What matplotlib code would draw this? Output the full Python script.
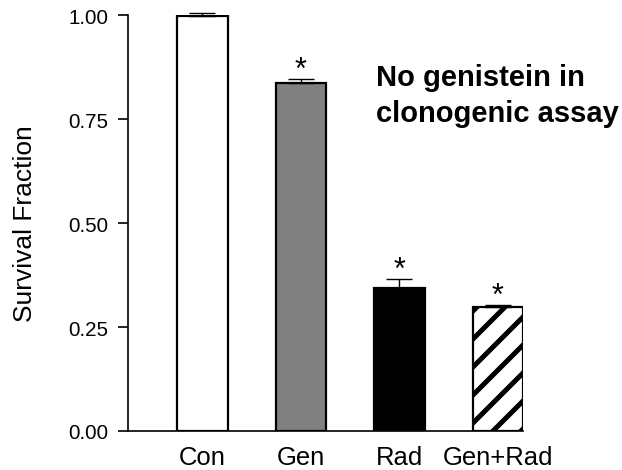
import numpy as np
import matplotlib
matplotlib.use("Agg")
import matplotlib.pyplot as plt

# ── Data ──────────────────────────────────────────────────────────────────────
groups = ["Con", "Gen", "Rad", "Gen+Rad"]
survival = [0.997, 0.837, 0.344, 0.298]
sem = [0.008, 0.009, 0.022, 0.004]
significant = [False, True, True, True]

FACE = ["white", "#808080", "black", "white"]
HATCH = [None, None, None, "/"]

# Render at dpi 84 so the hatch spacing (1 per 1/6 inch) matches the source;
# every size below is scaled so it looks as it would at dpi 100.
DPI = 84
F = 100 / DPI

plt.rcParams["font.family"] = ["Liberation Sans", "DejaVu Sans"]
plt.rcParams["hatch.linewidth"] = 3.6 * F
plt.rcParams["hatch.color"] = "black"

fig = plt.figure(figsize=(622 / DPI, 471 / DPI), dpi=DPI, facecolor="white")
ax = fig.add_axes([128 / 622, 1 - 432 / 471, (523 - 128) / 622, (432 - 16) / 471])

x = np.arange(len(groups))
bars = ax.bar(x, survival, width=0.51, color=FACE, edgecolor="black",
              linewidth=1.6 * F, zorder=2)
for b, h in zip(bars, HATCH):
    if h:
        b.set_hatch(h)

ax.errorbar(x, survival, yerr=[np.zeros(len(sem)), sem], fmt="none",
            ecolor="black", elinewidth=1.0 * F, capsize=9.5 * F,
            capthick=1.0 * F, zorder=3, clip_on=False)

for xi, v, e, s in zip(x, survival, sem, significant):
    if s:
        ax.text(xi, v + e + 0.022, "*", ha="center", va="center",
                fontsize=22 * F, color="black")

ax.set_xlim(-0.756, 3.254)
ax.set_ylim(0, 1.0)
ax.set_yticks([0, 0.25, 0.5, 0.75, 1.0])
ax.set_yticklabels(["0.00", "0.25", "0.50", "0.75", "1.00"])
ax.set_xticks(x)
ax.set_xticklabels(groups)
ax.tick_params(axis="x", length=0, pad=10 * F, labelsize=18.5 * F)
ax.tick_params(axis="y", length=7.2 * F, width=1.2 * F, pad=7 * F,
               labelsize=14.8 * F, direction="out")
ax.spines["top"].set_visible(False)
ax.spines["right"].set_visible(False)
ax.spines["left"].set_linewidth(1.2 * F)
ax.spines["bottom"].set_linewidth(1.2 * F)

ax.set_ylabel("Survival Fraction", fontsize=19 * F)
ax.yaxis.set_label_coords(-0.23, 0.5)

fig.text(376 / 622, 1 - 64 / 471, "No genistein in\nclonogenic assay",
         ha="left", va="top", fontsize=21 * F, fontweight="bold",
         linespacing=1.38)

fig.savefig("out.png", dpi=DPI, facecolor="white")
